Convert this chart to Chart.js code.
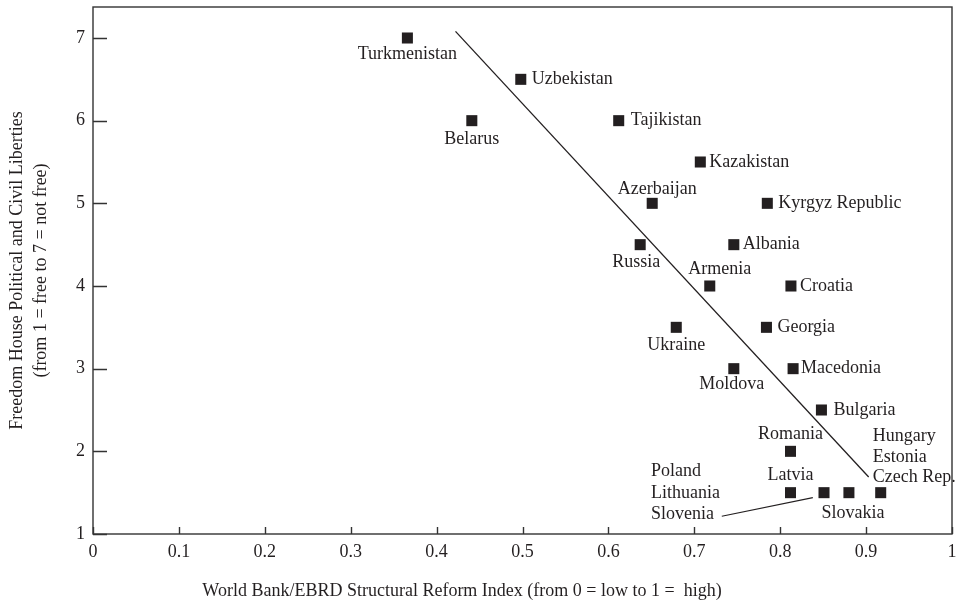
<!DOCTYPE html>
<html>
<head>
<meta charset="utf-8">
<script src="https://cdn.jsdelivr.net/npm/chart.js@4/dist/chart.umd.min.js"></script>
<style>
  html, body { margin: 0; padding: 0; background: #fff; overflow: hidden; }
  #wrap { width: 956px; height: 605px; position: relative; }
</style>
</head>
<body>
<div id="wrap"><canvas id="reformChart"></canvas></div>
<script>
// Data
const countries = [
    'Turkmenistan', 'Uzbekistan', 'Belarus', 'Tajikistan', 'Kazakistan',
    'Azerbaijan', 'Kyrgyz Republic', 'Russia', 'Albania', 'Armenia',
    'Croatia', 'Ukraine', 'Georgia', 'Moldova', 'Macedonia',
    'Bulgaria', 'Romania', 'Latvia', 'Poland\nLithuania\nSlovenia', 'Slovakia',
    'Hungary\nEstonia\nCzech Rep.'
];
const reformIndex = [
    0.366, 0.498, 0.441, 0.612, 0.707,
    0.651, 0.785, 0.637, 0.746, 0.718,
    0.8125, 0.679, 0.784, 0.746, 0.815,
    0.848, 0.812, 0.812, 0.851, 0.880,
    0.917
];
const freedomScore = [
    7, 6.5, 6, 6, 5.5,
    5, 5, 4.5, 4.5, 4,
    4, 3.5, 3.5, 3, 3,
    2.5, 2, 1.5, 1.5, 1.5,
    1.5
];
// fitted trend line and leader line end points
const fitX = [0.422, 0.903];
const fitY = [7.08, 1.69];
const leaderX = [0.732, 0.838];
const leaderY = [1.215, 1.44];
// axis ticks
const xTicks = [0, 0.1, 0.2, 0.3, 0.4, 0.5, 0.6, 0.7, 0.8, 0.9, 1];
const xTickLabels = ['0', '0.1', '0.2', '0.3', '0.4', '0.5', '0.6', '0.7', '0.8', '0.9', '1'];
const yTicks = [1, 2, 3, 4, 5, 6, 7];
const yTickLabels = ['1', '2', '3', '4', '5', '6', '7'];
const xTitle = 'World Bank/EBRD Structural Reform Index (from 0 = low to 1 =  high)';
const yTitle = ['Freedom House Political and Civil Liberties', '(from 1 = free to 7 = not free)'];

// Label placement (pixel offsets from each marker)
const labelPos = {
    'Turkmenistan': { dx: 0, dy: 16, align: 'center' },
    'Uzbekistan': { dx: 11, dy: 0, align: 'left' },
    'Belarus': { dx: 0, dy: 19, align: 'center' },
    'Tajikistan': { dx: 12, dy: 0, align: 'left' },
    'Kazakistan': { dx: 9, dy: 0, align: 'left' },
    'Azerbaijan': { dx: 5, dy: -14, align: 'center' },
    'Kyrgyz Republic': { dx: 11, dy: 0, align: 'left' },
    'Russia': { dx: -4, dy: 18, align: 'center' },
    'Albania': { dx: 9, dy: 0, align: 'left' },
    'Armenia': { dx: 10, dy: -17, align: 'center' },
    'Croatia': { dx: 9, dy: 0, align: 'left' },
    'Ukraine': { dx: 0, dy: 18, align: 'center' },
    'Georgia': { dx: 11, dy: 0, align: 'left' },
    'Moldova': { dx: -2, dy: 16, align: 'center' },
    'Macedonia': { dx: 8, dy: 0, align: 'left' },
    'Bulgaria': { dx: 12, dy: 0, align: 'left' },
    'Romania': { dx: 0, dy: -17, align: 'center' },
    'Latvia': { dx: 0, dy: -17, align: 'center' },
    'Poland\nLithuania\nSlovenia': { dx: -173, dy: -21, align: 'left', lh: 21.5 },
    'Slovakia': { dx: 4, dy: 21, align: 'center' },
    'Hungary\nEstonia\nCzech Rep.': { dx: -8, dy: -56, align: 'left', lh: 20.5 }
};

const ink = '#231f20';
const axisInk = '#333';
const serif = "'Liberation Serif', 'DejaVu Serif', serif";

const labelPlugin = {
    id: 'pointLabels',
    afterDatasetsDraw(chart) {
        const ctx = chart.ctx;
        const meta = chart.getDatasetMeta(0);
        ctx.save();
        ctx.font = '18px ' + serif;
        ctx.fillStyle = ink;
        ctx.textBaseline = 'middle';
        meta.data.forEach((pt, i) => {
            const name = countries[i];
            const p = labelPos[name];
            ctx.textAlign = p.align;
            name.split('\n').forEach((line, j) => {
                ctx.fillText(line, pt.x + p.dx, pt.y + p.dy + j * (p.lh || 0));
            });
        });
        ctx.restore();
    }
};

// full frame, inward ticks, x tick labels and x title
const framePlugin = {
    id: 'frame',
    afterDraw(chart) {
        const { ctx, chartArea: a, scales } = chart;
        ctx.save();
        ctx.strokeStyle = axisInk;
        ctx.lineWidth = 1.4;
        ctx.strokeRect(a.left, a.top, a.right - a.left, a.bottom - a.top);
        ctx.beginPath();
        xTicks.forEach(v => {
            const px = Math.round(scales.x.getPixelForValue(v)) + 0.5;
            ctx.moveTo(px, a.bottom);
            ctx.lineTo(px, a.bottom - 7);
        });
        yTicks.forEach(v => {
            const py = Math.round(scales.y.getPixelForValue(v)) + 0.5;
            ctx.moveTo(a.left, py);
            ctx.lineTo(a.left + 14, py);
        });
        ctx.stroke();

        ctx.font = '18px ' + serif;
        ctx.fillStyle = ink;
        ctx.textAlign = 'center';
        ctx.textBaseline = 'middle';
        xTicks.forEach((v, i) => {
            ctx.fillText(xTickLabels[i], scales.x.getPixelForValue(v), a.bottom + 18);
        });
        ctx.fillText(xTitle, 462, 591);
        ctx.restore();
    }
};

const ctx = document.getElementById('reformChart').getContext('2d');
window.reformChart = new Chart(ctx, {
    type: 'scatter',
    data: {
        datasets: [
            {
                label: 'Countries',
                data: reformIndex.map((x, i) => ({ x: x, y: freedomScore[i] })),
                pointStyle: 'rect',
                pointRadius: 7.8,
                backgroundColor: ink,
                borderWidth: 0
            },
            {
                label: 'Trend',
                data: fitX.map((x, i) => ({ x: x, y: fitY[i] })),
                showLine: true,
                borderColor: ink,
                borderWidth: 1.3,
                pointRadius: 0
            },
            {
                label: 'Leader',
                data: leaderX.map((x, i) => ({ x: x, y: leaderY[i] })),
                showLine: true,
                borderColor: ink,
                borderWidth: 1.1,
                pointRadius: 0
            }
        ]
    },
    options: {
        responsive: true,
        maintainAspectRatio: false,
        animation: false,
        layout: { autoPadding: false, padding: { top: 7, right: 4, left: 0, bottom: 0 } },
        plugins: {
            legend: { display: false },
            tooltip: { enabled: false }
        },
        scales: {
            x: {
                type: 'linear',
                min: 0,
                max: 1,
                afterBuildTicks: s => { s.ticks = xTicks.map(v => ({ value: v })); },
                afterFit: s => { s.height = 71; s.paddingLeft = 0; s.paddingRight = 0; },
                grid: { display: false, drawTicks: false },
                border: { display: false },
                ticks: { display: false }
            },
            y: {
                type: 'linear',
                min: 1,
                max: 7.375,
                afterBuildTicks: s => { s.ticks = yTicks.map(v => ({ value: v })); },
                afterFit: s => { s.width = 93; s.paddingTop = 0; s.paddingBottom = 0; },
                grid: { display: false, drawTicks: false },
                border: { display: false },
                ticks: {
                    padding: 8,
                    color: ink,
                    font: { family: serif, size: 18 },
                    callback: (v, i) => yTickLabels[i]
                },
                title: {
                    display: true,
                    text: yTitle,
                    color: ink,
                    padding: { top: 5, bottom: 0 },
                    font: { family: serif, size: 18, lineHeight: 1.333 }
                }
            }
        }
    },
    plugins: [labelPlugin, framePlugin]
});
</script>
</body>
</html>
